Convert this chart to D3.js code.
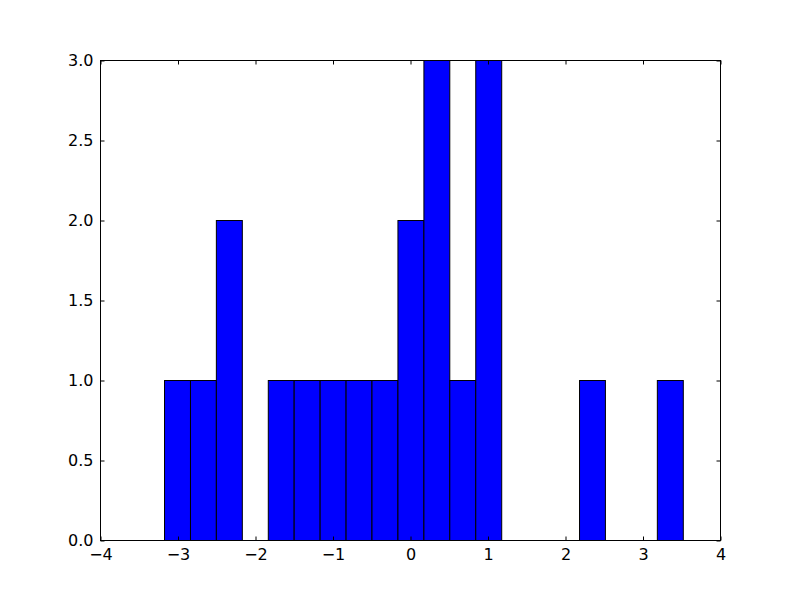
<!DOCTYPE html>
<html><head><meta charset="utf-8">
<script src="https://cdn.jsdelivr.net/npm/d3@7"></script>
<style>body{margin:0;background:#fff}svg{display:block}</style>
</head><body>
<script>
const binEdges = [-3.174,-2.839,-2.505,-2.170,-1.835,-1.501,-1.166,-0.831,-0.497,-0.162,0.173,0.507,0.842,1.177,1.511,1.846,2.181,2.515,2.850,3.185,3.520];
const counts = [1,1,2,0,1,1,1,1,1,2,3,1,3,0,0,0,1,0,0,1];
const xTicks = [-4,-3,-2,-1,0,1,2,3,4];
const yTicks = [0,0.5,1,1.5,2,2.5,3];

const W=800,H=600, L=100.5,R=720.5,T=60.5,B=540.5;
const svg=d3.select("body").append("svg").attr("width",W).attr("height",H);
const x=d3.scaleLinear().domain([-4,4]).range([L,R]);
const y=d3.scaleLinear().domain([0,3]).range([B,T]);
const bins=counts.map((c,i)=>({x0:binEdges[i],x1:binEdges[i+1],c}));
svg.append("g").selectAll("rect").data(bins.filter(d=>d.c>0)).join("rect")
 .attr("x",d=>x(d.x0)).attr("width",d=>x(d.x1)-x(d.x0))
 .attr("y",d=>y(d.c)).attr("height",d=>y(0)-y(d.c))
 .attr("fill","#0000ff").attr("stroke","#000").attr("stroke-width",1);
const fmt=v=>v.toString().replace("-","\u2212");
const fmtY=d3.format(".1f");
const gb=svg.append("g").attr("transform",`translate(0,${B})`).call(d3.axisBottom(x).tickValues(xTicks).tickSize(-4).tickPadding(8).tickFormat(fmt));
const gt=svg.append("g").attr("transform",`translate(0,${T})`).call(d3.axisTop(x).tickValues(xTicks).tickSize(-4).tickFormat(""));
const gl=svg.append("g").attr("transform",`translate(${L},0)`).call(d3.axisLeft(y).tickValues(yTicks).tickSize(-4).tickPadding(7).tickFormat(fmtY));
const gr=svg.append("g").attr("transform",`translate(${R},0)`).call(d3.axisRight(y).tickValues(yTicks).tickSize(-4).tickFormat(""));
[gb,gt,gl,gr].forEach(g=>{g.attr("font-size",null).attr("font-family",null);g.select(".domain").remove();g.selectAll("line").attr("stroke","#000");g.selectAll("text").style("font-size","16px").style("font-family","'DejaVu Sans'").attr("fill","#000");});
svg.append("rect").attr("x",L).attr("y",T).attr("width",R-L).attr("height",B-T).attr("fill","none").attr("stroke","#000").attr("stroke-width",1);
</script>
</body></html>
